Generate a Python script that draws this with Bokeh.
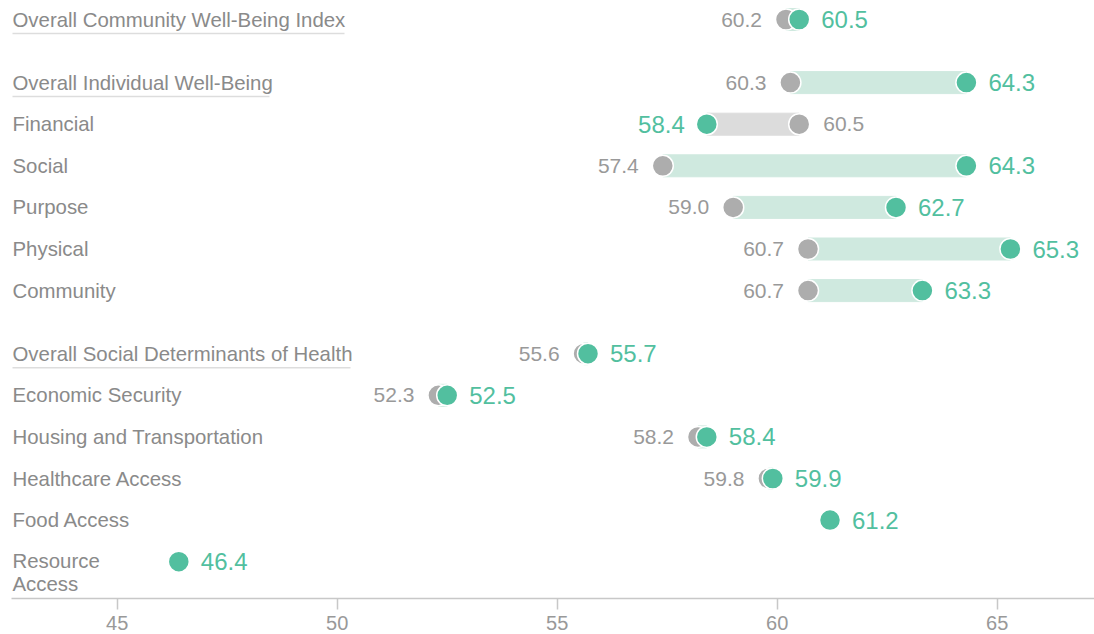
import math
from bokeh.plotting import figure
from bokeh.models import ColumnDataSource, Range1d, FixedTicker
from bokeh.core.properties import value
from bokeh.embed import file_html
from bokeh.resources import INLINE

# ---------------- data ----------------
labels = [
    "Overall Community Well-Being Index",
    "Overall Individual Well-Being",
    "Financial",
    "Social",
    "Purpose",
    "Physical",
    "Community",
    "Overall Social Determinants of Health",
    "Economic Security",
    "Housing and Transportation",
    "Healthcare Access",
    "Food Access",
    "Resource\nAccess",
]
groups = [0, 1, 1, 1, 1, 1, 1, 2, 2, 2, 2, 2, 2]
previous = [60.2, 60.3, 60.5, 57.4, 59.0, 60.7, 60.7, 55.6, 52.3, 58.2, 59.8, float("nan"), float("nan")]
current = [60.5, 64.3, 58.4, 64.3, 62.7, 65.3, 63.3, 55.7, 52.5, 58.4, 59.9, 61.2, 46.4]
tick_values = [45, 50, 55, 60, 65]

# ---------------- styles ----------------
FONT = "Liberation Sans"
GREEN = "#52bf9f"
GREEN_BAR = "#cfe9df"
GRAY = "#adadad"
GRAY_BAR = "#dcdcdc"
LABEL_COLOR = "#8a8a8a"
VALUE_GRAY = "#999999"
ROW_STEP = 41.6
GROUP_GAP = 21.5
TOP = 19
underline_px = {0: 332, 1: 257, 7: 338}

W, H = 1094, 634
LEFT = 11
BOTTOM = 36
PX_PER_UNIT = 44.0
x0 = 45 - (116.7 - LEFT) / PX_PER_UNIT
x1 = x0 + (W - LEFT) / PX_PER_UNIT

p = figure(width=W, height=H, output_backend="svg", toolbar_location=None,
           x_range=Range1d(x0, x1), y_range=Range1d(H - BOTTOM, 0),
           min_border_left=LEFT, min_border_right=0, min_border_top=0,
           min_border_bottom=BOTTOM)
p.outline_line_color = None
p.grid.visible = False
p.yaxis.visible = False
p.background_fill_color = "white"
p.border_fill_color = "white"

xa = p.xaxis[0]
xa.ticker = FixedTicker(ticks=tick_values)
xa.axis_line_color = "#c8c8c8"
xa.axis_line_width = 1.5
xa.major_tick_line_color = "#c8c8c8"
xa.major_tick_line_width = 1.5
xa.major_tick_in = 0
xa.major_tick_out = 11
xa.minor_tick_line_color = None
xa.major_label_text_font = FONT
xa.major_label_text_font_size = "20px"
xa.major_label_text_color = VALUE_GRAY
xa.major_label_standoff = 6

ys = [TOP + ROW_STEP * i + GROUP_GAP * g for i, g in enumerate(groups)]

# bars
bl, br, by, bc = [], [], [], []
for y, a, b in zip(ys, previous, current):
    if math.isnan(a):
        continue
    bl.append(min(a, b)); br.append(max(a, b)); by.append(y)
    bc.append(GREEN_BAR if b >= a else GRAY_BAR)
p.hbar(y="y", left="l", right="r", height=22, color="c",
       source=ColumnDataSource(dict(y=by, l=bl, r=br, c=bc)))

# dots
gx = [a for a in previous if not math.isnan(a)]
gy = [y for y, a in zip(ys, previous) if not math.isnan(a)]
p.scatter(gx, gy, size=21, fill_color=GRAY, line_color="white", line_width=1.5)
p.scatter(current, ys, size=21, fill_color=GREEN, line_color="white", line_width=1.5)

# value labels
glx, gly, glt, gla, glo = [], [], [], [], []
clx, cly, clt, cla, clo = [], [], [], [], []
for y, a, b in zip(ys, previous, current):
    up = math.isnan(a) or b >= a
    clx.append(b); cly.append(y); clt.append(f"{b:.1f}")
    cla.append("left" if up else "right"); clo.append(22 if up else -22)
    if not math.isnan(a):
        glx.append(a); gly.append(y); glt.append(f"{a:.1f}")
        gla.append("right" if up else "left"); glo.append(-24 if up else 24)

p.text(x="x", y="y", text="t", text_align="a", x_offset="o",
       source=ColumnDataSource(dict(x=glx, y=gly, t=glt, a=gla, o=glo)),
       text_baseline="middle", text_font=value(FONT), text_font_size="21px",
       text_color=VALUE_GRAY)
p.text(x="x", y="y", text="t", text_align="a", x_offset="o",
       source=ColumnDataSource(dict(x=clx, y=cly, t=clt, a=cla, o=clo)),
       text_baseline="middle", text_font=value(FONT), text_font_size="24px",
       text_color=GREEN)

# row labels
lab_x = [x0] * len(labels)
lab_yoff = [10.5 if "\n" in t else 0 for t in labels]
p.text(x="x", y="y", text="t", y_offset="yo",
       source=ColumnDataSource(dict(x=lab_x, y=ys, t=labels, yo=lab_yoff)),
       x_offset=1, text_baseline="middle", text_align="left",
       text_font=value(FONT), text_font_size="20.4px", text_color=LABEL_COLOR,
       text_line_height=1.05)

# underlines for overall rows
ux0, ux1, uy = [], [], []
for i, w in underline_px.items():
    ux0.append(x0 + 1 / PX_PER_UNIT)
    ux1.append(x0 + (1 + w) / PX_PER_UNIT)
    uy.append(ys[i] + 14)
p.segment(x0=ux0, x1=ux1, y0=uy, y1=uy, line_color="#dddddd", line_width=1.5)

open("out.html", "w").write(file_html(p, INLINE))
